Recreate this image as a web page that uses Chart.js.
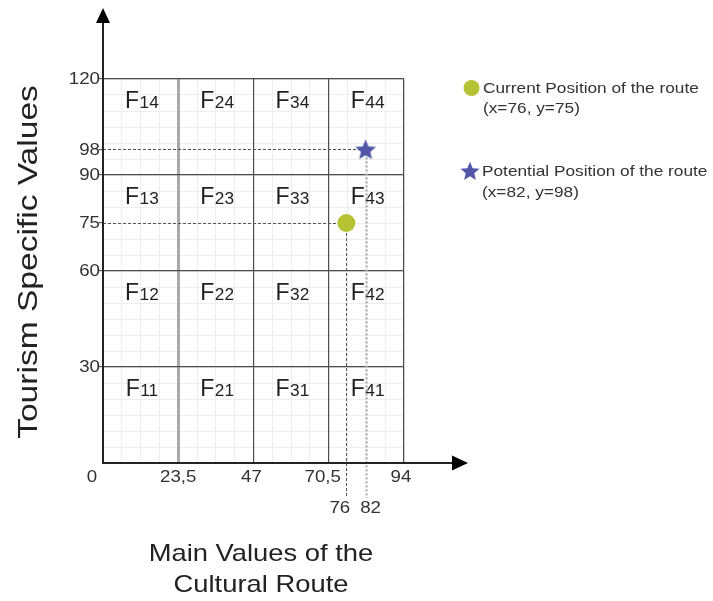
<!DOCTYPE html>
<html><head><meta charset="utf-8">
<script src="https://cdn.jsdelivr.net/npm/chart.js@4/dist/chart.umd.min.js"></script>
<style>html,body{margin:0;padding:0;background:#fff}#wrap{position:relative;width:713px;height:601px}</style>
</head><body><div id="wrap"><canvas id="c" width="713" height="601"></canvas></div>
<script>
// ---- data ----
const xBounds = [0, 23.5, 47, 70.5, 94];
const yBounds = [0, 30, 60, 90, 120];
const xTickLabels = ["0", "23,5", "47", "70,5", "94"];
const yTickValues = [30, 60, 75, 90, 98, 120];
const cellPrefix = "F";
const currentPos = {x: 76, y: 75};
const potentialPos = {x: 82, y: 98};
const seriesNames = ["Current Position of the route", "Potential Position of the route"];
const seriesNotes = ["(x=76, y=75)", "(x=82, y=98)"];
const xTitleLines = ["Main Values of the", "Cultural Route"];
const yTitle = "Tourism Specific Values";

// ---- styles ----
const FONT = '"Liberation Sans", Arial, Helvetica, sans-serif';
const GREEN = '#b5c234';
const BLUE = '#5156a8';
const TXT = '#222';

function makeStar(r, color) {
  const c = document.createElement('canvas');
  const s = Math.ceil(r * 2 + 4);
  c.width = s; c.height = s;
  const g = c.getContext('2d');
  g.translate(s / 2, s / 2 + r * 0.08);
  g.beginPath();
  for (let i = 0; i < 10; i++) {
    const rr = i % 2 === 0 ? r : r * 0.45;
    const a = -Math.PI / 2 + i * Math.PI / 5;
    const px = Math.cos(a) * rr, py = Math.sin(a) * rr;
    if (i === 0) g.moveTo(px, py); else g.lineTo(px, py);
  }
  g.closePath();
  g.fillStyle = color; g.fill();
  return c;
}
const starPlot = makeStar(11, BLUE);
const starLegend = makeStar(10, BLUE);

function txt(ctx, s, x, y, size, align, baseline, sx, color) {
  ctx.save();
  ctx.font = size + 'px ' + FONT;
  ctx.fillStyle = color || TXT;
  ctx.textAlign = align; ctx.textBaseline = baseline;
  ctx.translate(x, y); ctx.scale(sx, 1);
  ctx.fillText(s, 0, 0);
  ctx.restore();
}

const overlay = {
  id: 'overlay',
  beforeDatasetsDraw(chart) {
    const ctx = chart.ctx, x = chart.scales.x, y = chart.scales.y;
    // cell labels
    for (let i = 1; i < xBounds.length; i++) {
      for (let j = 1; j < yBounds.length; j++) {
        const cx = (x.getPixelForValue(xBounds[i - 1]) + x.getPixelForValue(xBounds[i])) / 2 + 1;
        const by = y.getPixelForValue(yBounds[j]) + 28.5;
        const sub = String(i) + String(j);
        ctx.save();
        ctx.font = '23px ' + FONT;
        const wF = ctx.measureText(cellPrefix).width;
        ctx.font = '16px ' + FONT;
        const wS = ctx.measureText(sub).width * 1.08;
        const left = cx - (wF + wS) / 2;
        ctx.restore();
        txt(ctx, cellPrefix, left, by, 23, 'left', 'alphabetic', 1, TXT);
        txt(ctx, sub, left + wF + 0.5, by, 16, 'left', 'alphabetic', 1.08, TXT);
      }
    }
    // guide lines
    const x0 = x.getPixelForValue(0), yb = y.getPixelForValue(0) + 35;
    const guides = [
      {p: currentPos, hColor: '#555', vColor: '#555', vWidth: 1, vDash: [3, 2]},
      {p: potentialPos, hColor: '#555', vColor: '#b3b3b3', vWidth: 2.5, vDash: [2, 2]}
    ];
    guides.forEach(g => {
      const px = x.getPixelForValue(g.p.x), py = y.getPixelForValue(g.p.y);
      ctx.save();
      ctx.strokeStyle = g.hColor; ctx.lineWidth = 1; ctx.setLineDash([3, 2]);
      ctx.beginPath(); ctx.moveTo(x0, Math.round(py) + 0.5); ctx.lineTo(px, Math.round(py) + 0.5); ctx.stroke();
      ctx.strokeStyle = g.vColor; ctx.lineWidth = g.vWidth; ctx.setLineDash(g.vDash);
      ctx.beginPath(); ctx.moveTo(Math.round(px) + 0.5, py); ctx.lineTo(Math.round(px) + 0.5, yb); ctx.stroke();
      ctx.restore();
    });
  },
  afterDatasetsDraw(chart) {
    const ctx = chart.ctx, x = chart.scales.x, y = chart.scales.y;
    const ox = x.getPixelForValue(0), oy = y.getPixelForValue(0);
    // axes with arrows
    ctx.save();
    ctx.strokeStyle = '#222'; ctx.fillStyle = '#000'; ctx.lineWidth = 2;
    ctx.beginPath(); ctx.moveTo(ox, oy + 1); ctx.lineTo(ox, 22); ctx.stroke();
    ctx.beginPath(); ctx.moveTo(ox - 1, oy); ctx.lineTo(453, oy); ctx.stroke();
    ctx.beginPath(); ctx.moveTo(ox, 8); ctx.lineTo(ox + 7, 23); ctx.lineTo(ox - 7, 23); ctx.closePath(); ctx.fill();
    ctx.beginPath(); ctx.moveTo(468, oy); ctx.lineTo(452, oy - 7.5); ctx.lineTo(452, oy + 7.5); ctx.closePath(); ctx.fill();
    ctx.restore();
    // y tick labels
    yTickValues.forEach(v => {
      txt(ctx, String(v), ox - 3, y.getPixelForValue(v) + 0.5, 17, 'right', 'middle', 1.1, '#333');
    });
    // x tick labels
    const xOff = [-11, 0, -2, -6, -3];
    xBounds.forEach((v, i) => {
      txt(ctx, xTickLabels[i], x.getPixelForValue(v) + xOff[i], oy + 14.5, 17, 'center', 'middle', 1.1, '#333');
    });
    // point value labels
    txt(ctx, String(currentPos.x), x.getPixelForValue(currentPos.x) - 6.5, oy + 45.5, 17, 'center', 'middle', 1.1, '#333');
    txt(ctx, String(potentialPos.x), x.getPixelForValue(potentialPos.x) + 5, oy + 45.5, 17, 'center', 'middle', 1.1, '#333');
    // legend
    ctx.save();
    ctx.fillStyle = GREEN; ctx.beginPath(); ctx.arc(471.5, 88, 8, 0, Math.PI * 2); ctx.fill();
    ctx.drawImage(starLegend, 470 - starLegend.width / 2, 171 - starLegend.height / 2);
    ctx.restore();
    txt(ctx, seriesNames[0], 483, 88.5, 14.5, 'left', 'middle', 1.19, '#333');
    txt(ctx, seriesNotes[0], 483, 109, 14.5, 'left', 'middle', 1.19, '#333');
    txt(ctx, seriesNames[1], 482, 172, 14.5, 'left', 'middle', 1.19, '#333');
    txt(ctx, seriesNotes[1], 482, 193, 14.5, 'left', 'middle', 1.19, '#333');
    // axis titles
    txt(ctx, xTitleLines[0], 261, 561, 24, 'center', 'alphabetic', 1.14, TXT);
    txt(ctx, xTitleLines[1], 261, 592, 24, 'center', 'alphabetic', 1.14, TXT);
    ctx.save();
    ctx.translate(37, 262); ctx.rotate(-Math.PI / 2);
    txt(ctx, yTitle, 0, 0, 27.5, 'center', 'alphabetic', 1.22, TXT);
    ctx.restore();
  }
};

const transparent = 'rgba(0,0,0,0)';
new Chart(document.getElementById('c'), {
  type: 'scatter',
  data: {
    datasets: [
      {label: seriesNames[0], data: [currentPos], pointStyle: 'circle', pointRadius: 9, backgroundColor: GREEN, borderWidth: 0},
      {label: seriesNames[1], data: [potentialPos], pointStyle: starPlot, pointRadius: 11, backgroundColor: BLUE, borderWidth: 0}
    ]
  },
  options: {
    responsive: false, animation: false, devicePixelRatio: 1, events: [],
    layout: {padding: {left: 99, right: 309, top: 79, bottom: 138}},
    plugins: {legend: {display: false}, tooltip: {enabled: false}},
    scales: {
      x2: {
        type: 'linear', position: 'bottom', min: 0, max: 94, z: -1,
        ticks: {display: false, stepSize: 23.5 / 4},
        border: {display: false},
        grid: {color: '#eeeeee', lineWidth: 1, drawTicks: false},
        afterFit: s => { s.height = 0; }
      },
      y2: {
        type: 'linear', position: 'left', min: 0, max: 120, z: -1,
        ticks: {display: false, stepSize: 5},
        border: {display: false},
        grid: {color: '#eeeeee', lineWidth: 1, drawTicks: false},
        afterFit: s => { s.width = 0; }
      },
      x: {
        type: 'linear', position: 'bottom', min: 0, max: 94,
        afterBuildTicks: s => { s.ticks = xBounds.map(v => ({value: v})); },
        ticks: {display: false},
        border: {display: false},
        grid: {
          drawTicks: false,
          color: c => (c.tick && c.tick.value === 0) ? transparent : (c.tick && c.tick.value === 23.5 ? '#a9a9a9' : '#4d4d4d'),
          lineWidth: c => (c.tick && c.tick.value === 23.5) ? 3 : 1.2
        },
        afterFit: s => { s.height = 0; }
      },
      y: {
        type: 'linear', position: 'left', min: 0, max: 120,
        afterBuildTicks: s => { s.ticks = [0].concat(yTickValues).map(v => ({value: v})); },
        ticks: {display: false},
        border: {display: false},
        grid: {
          drawTicks: true, tickLength: 4,
          color: c => (c.tick && c.tick.value !== 0 && yBounds.includes(c.tick.value)) ? '#4d4d4d' : transparent,
          tickColor: c => (c.tick && c.tick.value !== 0) ? '#555' : transparent,
          lineWidth: 1.2
        },
        afterFit: s => { s.width = 4; }
      }
    }
  },
  plugins: [overlay]
});
</script>
</body></html>
